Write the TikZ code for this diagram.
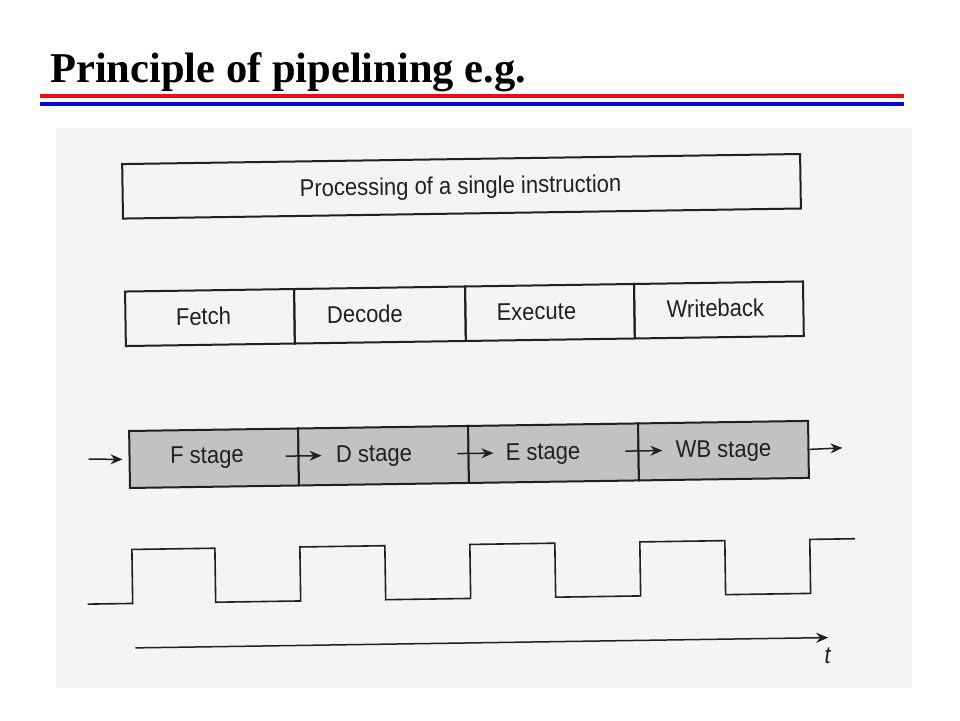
\documentclass[tikz,border=0pt]{standalone}
\usepackage{fontspec}
\setmainfont{Liberation Serif}
\setsansfont{Liberation Sans}
\usetikzlibrary{arrows.meta}
\definecolor{scanbg}{RGB}{244,244,244}
\definecolor{shadefill}{RGB}{194,194,194}
\definecolor{ink}{RGB}{32,32,32}
\definecolor{tred}{RGB}{235,15,15}
\definecolor{tblue}{RGB}{10,10,215}
\begin{document}
\begin{tikzpicture}[x=1pt,y=-1pt,
  box/.style={draw=ink, line width=2pt, inner sep=0pt, anchor=north west},
  lbl/.style={font=\sffamily\fontsize{22}{26}\selectfont, text=ink, inner sep=0pt, anchor=base, yscale=1.1},
  arr/.style={draw=ink, line width=1.5pt, -{Stealth[length=12pt,width=10pt]}},
  clk/.style={draw=ink, line width=1.6pt, line join=miter}]
\useasboundingbox (0,0) rectangle (960,720);
\fill[white] (0,0) rectangle (960,720);
% title
\node[anchor=base west, inner sep=0pt, font=\bfseries\fontsize{42.5}{50}\selectfont] (title) at (50,82) {Principle of pipelining e.g.};
\draw[tred, line width=4pt] (40,95.7) -- (904,95.7);
\draw[tblue, line width=3.6pt] (40,103.8) -- (904,103.8);
% scanned area
\fill[scanbg] (56,128) rectangle (912,688);
\begin{scope}[rotate around={0.85:(465,420)}, transform shape]
% box 1
\node[box, minimum width=678pt, minimum height=54.5pt] (single) at (125,158) {};
\node[lbl] (tsingle) at (464,194) {Processing of a single instruction};
% box 2
\node[box, minimum width=169pt, minimum height=54.5pt] (fetch) at (126,285.5) {};
\node[box, minimum width=171pt, minimum height=54.5pt] (decode) at (295,285.5) {};
\node[box, minimum width=169pt, minimum height=54.5pt] (execute) at (466,285.5) {};
\node[box, minimum width=169pt, minimum height=54.5pt] (writeback) at (635,285.5) {};
\node[lbl] (tfetch) at (205,321) {Fetch};
\node[lbl] (tdecode) at (366.5,321) {Decode};
\node[lbl] (texecute) at (538,321) {Execute};
\node[lbl] (twriteback) at (717,320.5) {Writeback};
% box 3
\node[box, fill=shadefill, minimum width=169pt, minimum height=57pt] (fst) at (128,425) {};
\node[box, fill=shadefill, minimum width=170pt, minimum height=57pt] (dst) at (297,425) {};
\node[box, fill=shadefill, minimum width=170pt, minimum height=57pt] (est) at (467,425) {};
\node[box, fill=shadefill, minimum width=170pt, minimum height=57pt] (wbst) at (637,425) {};
\node[lbl] (tfst) at (206.5,459.5) {F stage};
\node[lbl] (tdst) at (373.5,460.5) {D stage};
\node[lbl] (test) at (542.5,461) {E stage};
\node[lbl] (twbst) at (723,461) {WB stage};
\coordinate (in0) at (88,453.5);
\coordinate (a1s) at (285,453.5);
\coordinate (a1e) at (321,453.5);
\coordinate (a2s) at (457,453.5);
\coordinate (a2e) at (493,453.5);
\coordinate (a3s) at (625,453.5);
\coordinate (a3e) at (662,453.5);
\coordinate (out1) at (842,453.5);
\draw[arr, shorten >=6pt] (in0) -- (fst.west);
\draw[arr] (a1s) -- (a1e);
\draw[arr] (a2s) -- (a2e);
\draw[arr] (a3s) -- (a3e);
\draw[arr] (wbst.east) -- (out1);
% clock
\draw[clk] (85,598.5) -- (130,598.5) -- (130,544.5) -- (213,544.5) -- (213,598.5)
  -- (298,598.5) -- (298,544.5) -- (383,544.5) -- (383,598.5)
  -- (468,598.5) -- (468,544.5) -- (553,544.5) -- (553,598.5)
  -- (638,598.5) -- (638,544.5) -- (723,544.5) -- (723,598.5)
  -- (808,598.5) -- (808,544.5) -- (853,544.5);
% time axis
\coordinate (t0) at (132,643);
\coordinate (t1) at (825,643);
\draw[arr] (t0) -- (t1);
\node[lbl, font=\sffamily\itshape\fontsize{22}{26}\selectfont] (tlab) at (824,669) {t};
\end{scope}
\end{tikzpicture}
\end{document}
